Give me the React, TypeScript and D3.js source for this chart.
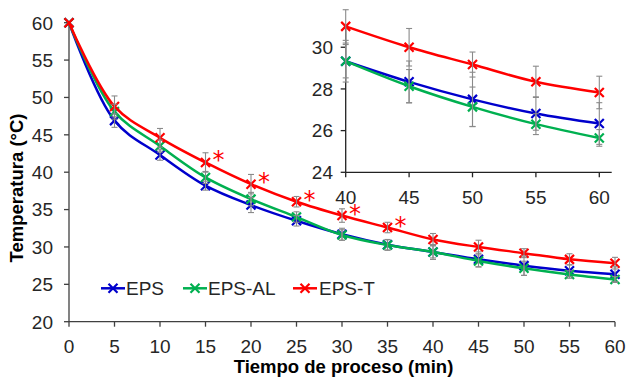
import * as d3 from 'd3';
import { useEffect, useRef } from 'react';

const times = [0, 5, 10, 15, 20, 25, 30, 35, 40, 45, 50, 55, 60];
const eps = [60, 46.9, 42.3, 38.2, 35.6, 33.5, 31.7, 30.3, 29.33, 28.34, 27.5, 26.82, 26.34];
const epsAl = [60, 48.1, 43.5, 39.3, 36.4, 34.0, 31.6, 30.25, 29.33, 28.13, 27.14, 26.31, 25.65];
const epsT = [60, 48.8, 44.6, 41.3, 38.4, 36.05, 34.2, 32.6, 31.0, 30.0, 29.17, 28.34, 27.83];
const epsErr = [0, 0.9, 0.7, 0.6, 1.0, 0.7, 0.8, 0.7, 1.0, 1.0, 1.3, 0.8, 1.0];
const epsAlErr = [0, 1.0, 0.8, 0.8, 0.9, 0.7, 0.7, 0.7, 0.8, 0.8, 0.95, 0.5, 0.4];
const epsTErr = [0, 1.4, 1.25, 1.3, 1.3, 0.7, 0.9, 0.7, 0.8, 0.9, 0.6, 0.75, 0.78];
const starTimes = [15, 20, 25, 30, 35];
const mainXTicks = d3.range(0, 61, 5);
const mainYTicks = d3.range(20, 61, 5);
const insetXTicks = [40, 45, 50, 55, 60];
const insetYTicks = [24, 26, 28, 30];

const series = [
  { name: 'EPS', values: eps, err: epsErr, color: '#0000cc' },
  { name: 'EPS-AL', values: epsAl, err: epsAlErr, color: '#00b050' },
  { name: 'EPS-T', values: epsT, err: epsTErr, color: '#ff0000' },
];

const FONT = 'Liberation Sans, Arial, sans-serif';
const TICK_SIZE = 19;

export default function App() {
  const ref = useRef<SVGSVGElement | null>(null);

  useEffect(() => {
    const svg = d3.select(ref.current);
    svg.selectAll('*').remove();
    const width = 628;
    const height = 381;
    svg.attr('width', width).attr('height', height).attr('font-family', FONT);

    const x = d3.scaleLinear().domain([0, 60]).range([69, 615]);
    const y = d3.scaleLinear().domain([20, 60]).range([321.7, 22.7]);
    const xi = d3.scaleLinear().domain([40, 60]).range([345.7, 599.3]);
    const yi = d3.scaleLinear().domain([24, 31]).range([172.3, 26.4]);
    const axisColor = '#404040';

    const drawPlot = (
      g: d3.Selection<SVGGElement, unknown, null, undefined>,
      sx: d3.ScaleLinear<number, number>,
      sy: d3.ScaleLinear<number, number>,
      minT: number
    ) => {
      series.forEach((s) => {
        const pts = times
          .map((t, i) => ({ t, v: s.values[i], e: s.err[i] }))
          .filter((p) => p.t >= minT);
        const line = d3
          .line<{ t: number; v: number }>()
          .x((p) => sx(p.t))
          .y((p) => sy(p.v))
          .curve(d3.curveCatmullRom.alpha(0.5));
        g.append('path')
          .attr('d', line(pts))
          .attr('fill', 'none')
          .attr('stroke', s.color)
          .attr('stroke-width', 2.5);
        pts.forEach((p) => {
          const cx = sx(p.t);
          const cy = sy(p.v);
          const r = 4.5;
          g.append('path')
            .attr('d', `M${cx - r},${cy - r}L${cx + r},${cy + r}M${cx - r},${cy + r}L${cx + r},${cy - r}`)
            .attr('stroke', s.color)
            .attr('stroke-width', 2.2);
        });
      });
      series.forEach((s) => {
        times.forEach((t, i) => {
          if (t < minT || s.err[i] === 0) return;
          const cx = sx(t);
          const top = sy(s.values[i] + s.err[i]);
          const bot = sy(s.values[i] - s.err[i]);
          const eg = g.append('g').attr('stroke', '#8a8a8a').attr('stroke-width', 1.1);
          eg.append('line').attr('x1', cx).attr('x2', cx).attr('y1', top).attr('y2', bot);
          eg.append('line').attr('x1', cx - 3).attr('x2', cx + 3).attr('y1', top).attr('y2', top);
          eg.append('line').attr('x1', cx - 3).attr('x2', cx + 3).attr('y1', bot).attr('y2', bot);
        });
      });
    };

    // main axes
    const main = svg.append('g');
    main.append('line').attr('x1', x(0)).attr('x2', x(0)).attr('y1', y(60)).attr('y2', y(20))
      .attr('stroke', axisColor).attr('stroke-width', 1.3);
    main.append('line').attr('x1', x(0)).attr('x2', x(60)).attr('y1', y(20)).attr('y2', y(20))
      .attr('stroke', axisColor).attr('stroke-width', 1.3);
    mainYTicks.forEach((t) => {
      main.append('line').attr('x1', x(0) - 5).attr('x2', x(0)).attr('y1', y(t)).attr('y2', y(t))
        .attr('stroke', axisColor).attr('stroke-width', 1.3);
      main.append('text').attr('x', 53).attr('y', y(t) + 6.8).attr('text-anchor', 'end')
        .attr('font-size', TICK_SIZE).attr('fill', '#262626').text(t);
    });
    mainXTicks.forEach((t) => {
      main.append('line').attr('x1', x(t)).attr('x2', x(t)).attr('y1', y(20)).attr('y2', y(20) + 5)
        .attr('stroke', axisColor).attr('stroke-width', 1.3);
      main.append('text').attr('x', x(t)).attr('y', 353).attr('text-anchor', 'middle')
        .attr('font-size', TICK_SIZE).attr('fill', '#262626').text(t);
    });
    main.append('text').attr('x', 343.5).attr('y', 373).attr('text-anchor', 'middle')
      .attr('font-size', 18.5).attr('font-weight', 'bold').attr('fill', '#000').text('Tiempo de proceso (min)');
    main.append('text').attr('transform', 'translate(23,188) rotate(-90)').attr('text-anchor', 'middle')
      .attr('font-size', 18.5).attr('font-weight', 'bold').attr('fill', '#000').text('Temperatura (°C)');

    drawPlot(main, x, y, 0);

    // significance stars
    starTimes.forEach((t) => {
      const i = times.indexOf(t);
      main.append('text').attr('x', x(t) + 7).attr('y', y(epsT[i]) + 6)
        .attr('font-family', 'DejaVu Sans, sans-serif')
        .attr('font-size', 24).attr('fill', '#ff0000').text('*');
    });

    // legend
    const legendY = 288.3;
    const legendItems = [
      { x0: 101, tx: 126 },
      { x0: 183, tx: 208 },
      { x0: 293, tx: 319 },
    ];
    series.forEach((s, i) => {
      const { x0, tx } = legendItems[i];
      main.append('line').attr('x1', x0).attr('x2', x0 + 24).attr('y1', legendY).attr('y2', legendY)
        .attr('stroke', s.color).attr('stroke-width', 2.5);
      const cx = x0 + 12;
      const r = 4.5;
      main.append('path')
        .attr('d', `M${cx - r},${legendY - r}L${cx + r},${legendY + r}M${cx - r},${legendY + r}L${cx + r},${legendY - r}`)
        .attr('stroke', s.color).attr('stroke-width', 2.2);
      main.append('text').attr('x', tx).attr('y', legendY + 6.8).attr('font-size', TICK_SIZE)
        .attr('fill', '#262626').text(s.name);
    });

    // inset
    const inset = svg.append('g');
    inset.append('line').attr('x1', xi(40)).attr('x2', xi(40)).attr('y1', yi(31)).attr('y2', yi(24))
      .attr('stroke', '#222').attr('stroke-width', 1.3);
    inset.append('line').attr('x1', xi(40)).attr('x2', 611.7).attr('y1', yi(24)).attr('y2', yi(24))
      .attr('stroke', '#222').attr('stroke-width', 1.3);
    insetYTicks.forEach((t) => {
      inset.append('line').attr('x1', xi(40) - 5).attr('x2', xi(40)).attr('y1', yi(t)).attr('y2', yi(t))
        .attr('stroke', '#222').attr('stroke-width', 1.3);
      inset.append('text').attr('x', 333).attr('y', yi(t) + 6.8).attr('text-anchor', 'end')
        .attr('font-size', TICK_SIZE).attr('fill', '#262626').text(t);
    });
    insetXTicks.forEach((t) => {
      inset.append('line').attr('x1', xi(t)).attr('x2', xi(t)).attr('y1', yi(24)).attr('y2', yi(24) + 5)
        .attr('stroke', '#222').attr('stroke-width', 1.3);
      inset.append('text').attr('x', xi(t)).attr('y', 204).attr('text-anchor', 'middle')
        .attr('font-size', TICK_SIZE).attr('fill', '#262626').text(t);
    });
    drawPlot(inset, xi, yi, 40);
  }, []);

  return (
    <div style={{ position: 'absolute', left: 0, top: 0 }}>
      <svg ref={ref} role="img" aria-label="Temperatura vs tiempo" />
    </div>
  );
}
